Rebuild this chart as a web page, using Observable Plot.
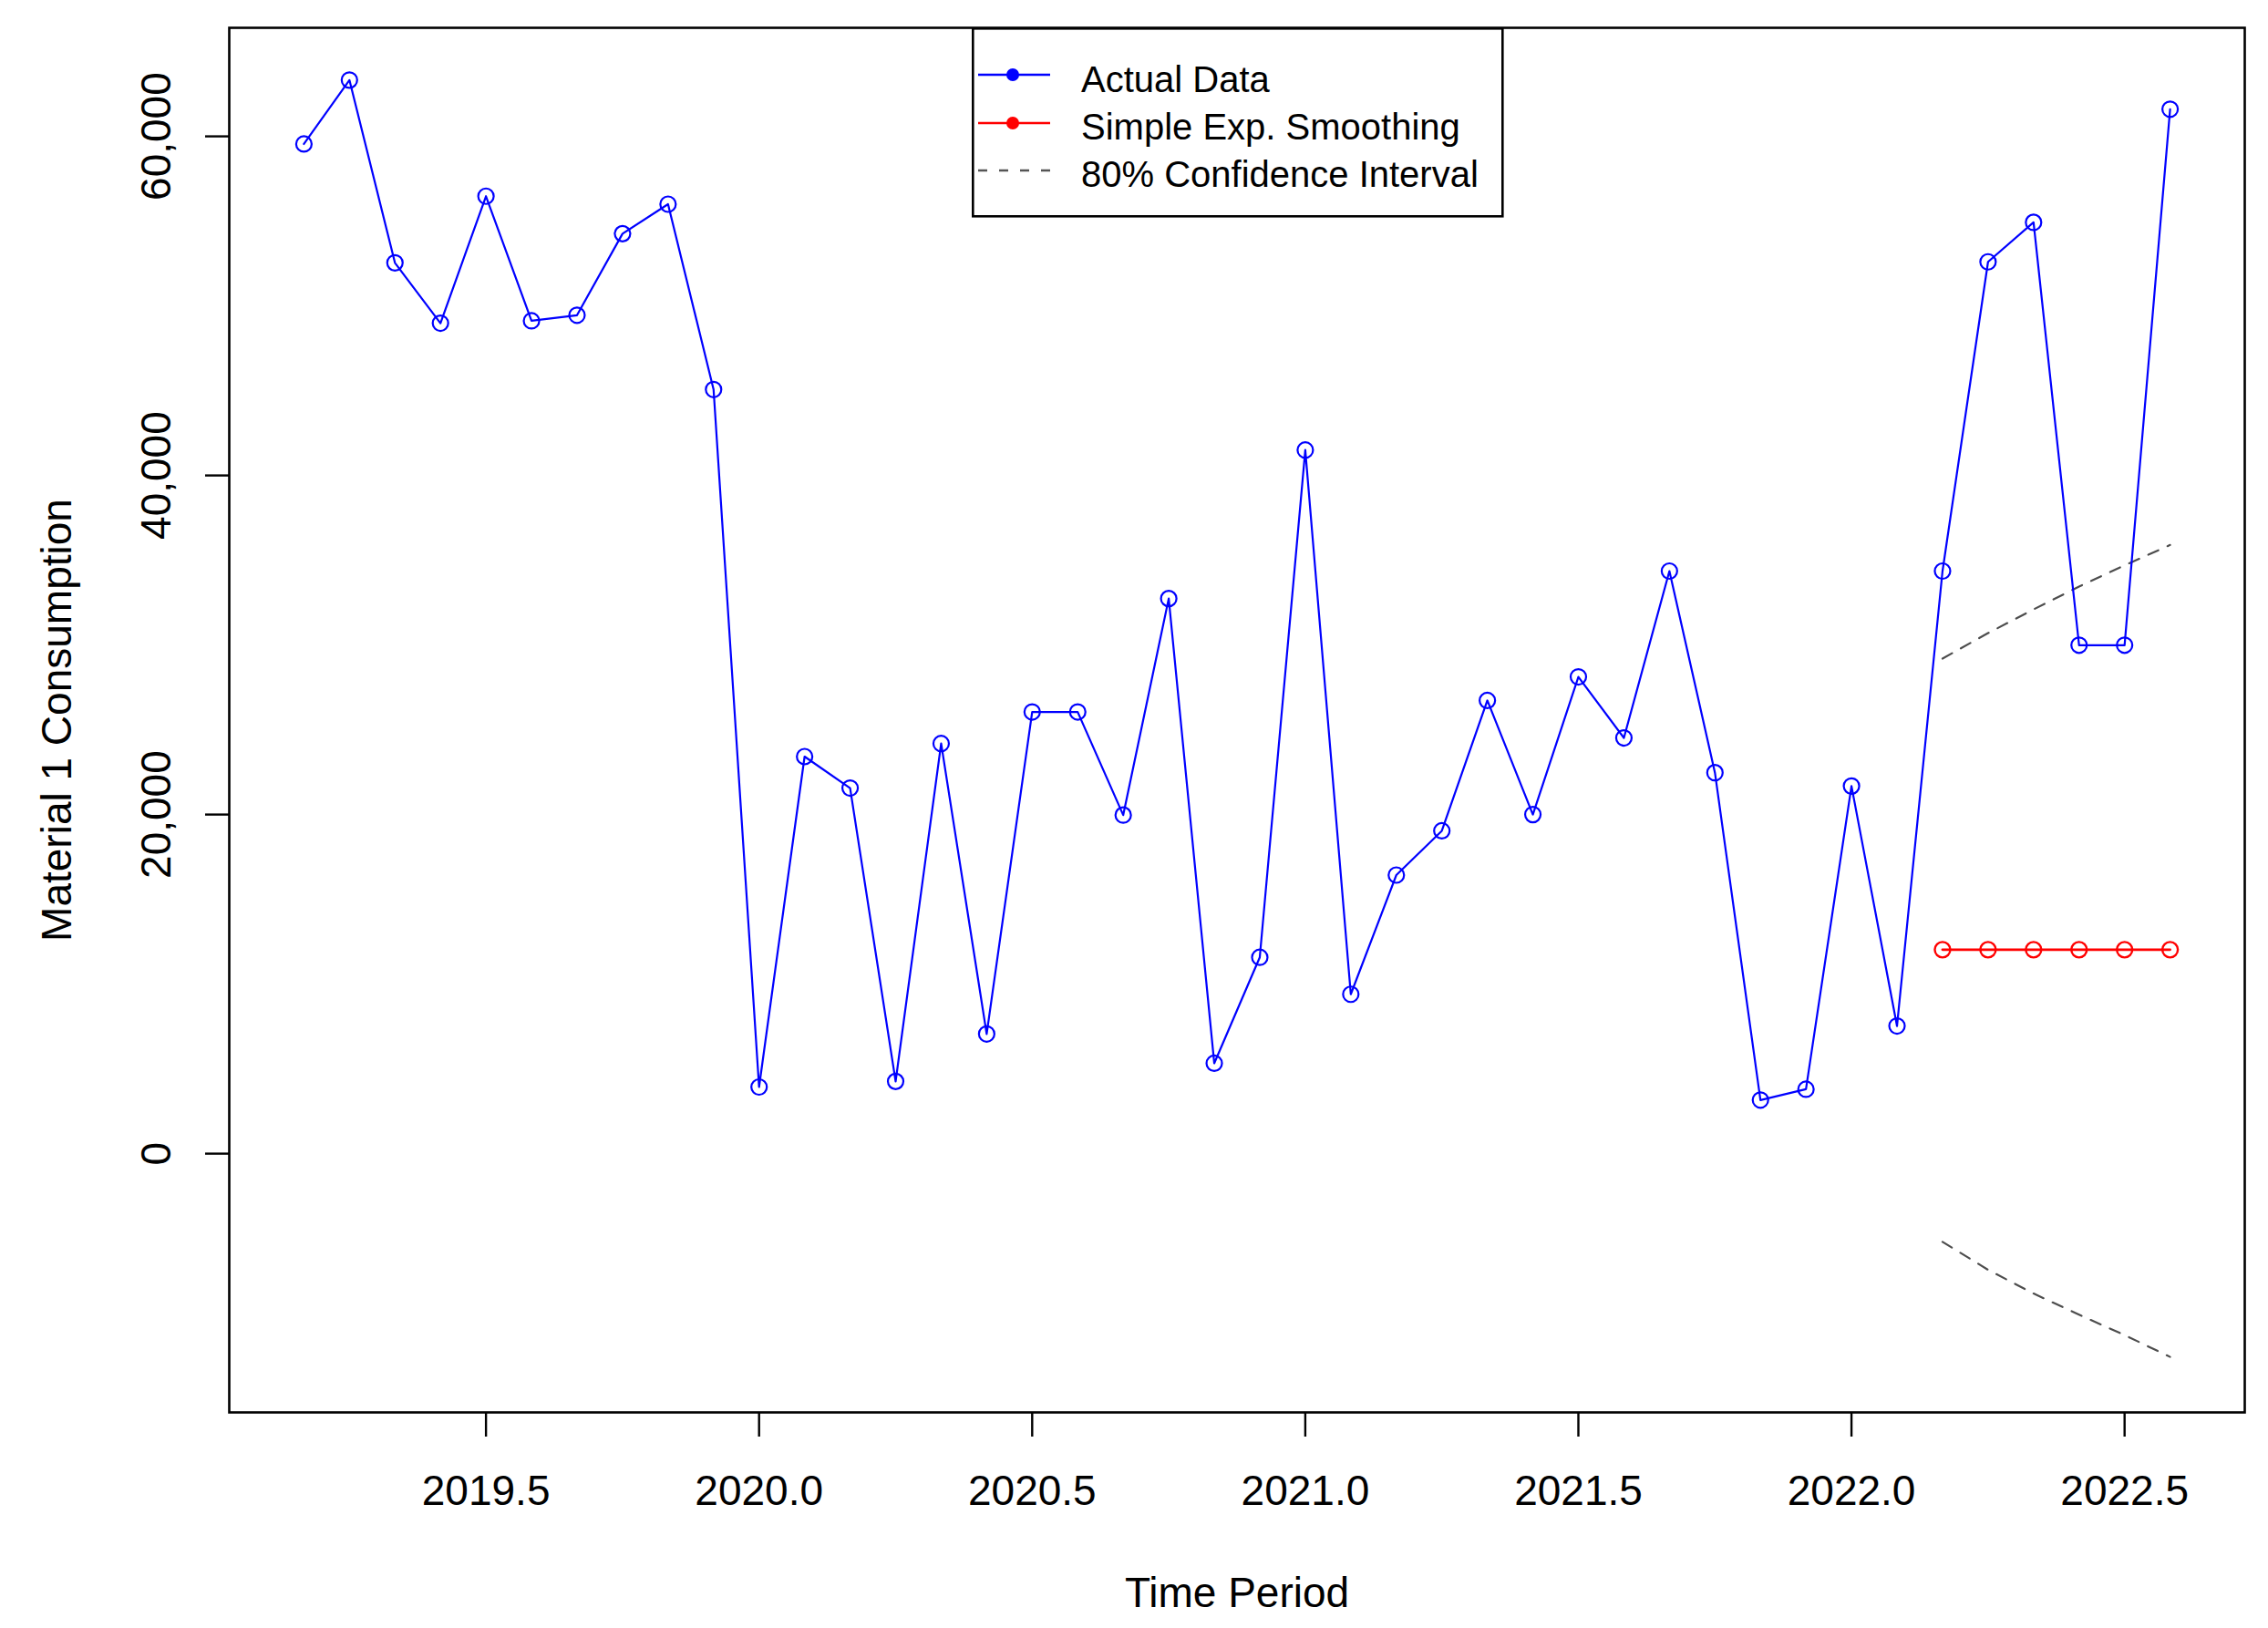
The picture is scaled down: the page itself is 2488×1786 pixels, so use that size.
<!DOCTYPE html>
<html>
<head>
<meta charset="utf-8">
<script src="https://cdn.jsdelivr.net/npm/d3@7"></script>
<script src="https://cdn.jsdelivr.net/npm/@observablehq/plot@0.6"></script>
<style>
html, body { margin: 0; padding: 0; background: #fff; }
#wrap { position: relative; width: 2488px; height: 1786px; overflow: hidden; }
#legend { position: absolute; left: 1066px; top: 30px; font-family: 'Liberation Sans', Arial, sans-serif; }
</style>
</head>
<body>
<div id="wrap"></div>
<script>
// ---- data ----
const periods = [
  "2019-03","2019-04","2019-05","2019-06","2019-07","2019-08","2019-09","2019-10","2019-11","2019-12",
  "2020-01","2020-02","2020-03","2020-04","2020-05","2020-06","2020-07","2020-08","2020-09","2020-10","2020-11","2020-12",
  "2021-01","2021-02","2021-03","2021-04","2021-05","2021-06","2021-07","2021-08","2021-09","2021-10","2021-11","2021-12",
  "2022-01","2022-02","2022-03","2022-04","2022-05","2022-06","2022-07","2022-08"
];
const actual = [
  59550, 63320, 52540, 48980, 56470, 49120, 49450, 54260, 56000, 45070,
  3930, 23420, 21560, 4260, 24190, 7060, 26050, 26050, 19970, 32740, 5330, 11580,
  41500, 9400, 16430, 19040, 26730, 20000, 28120, 24520, 34360, 22470, 3160, 3800,
  21680, 7530, 34360, 52600, 54930, 29990, 29990, 61600
];
const fcPeriods = ["2022-03","2022-04","2022-05","2022-06","2022-07","2022-08"];
const forecast = [12030, 12030, 12030, 12030, 12030, 12030];
const upper80 = [29200, 30700, 32100, 33450, 34700, 35900];
const lower80 = [-5200, -6850, -8250, -9500, -10700, -11990];
const xTicks = [2019.5, 2020.0, 2020.5, 2021.0, 2021.5, 2022.0, 2022.5];
const yTicks = [0, 20000, 40000, 60000];
const legendItems = ["Actual Data", "Simple Exp. Smoothing", "80% Confidence Interval"];

// ---- build tables ----
const toYear = s => { const [y, m] = s.split("-").map(Number); return y + (m - 1) / 12; };
const actualData = periods.map((p, i) => ({t: toYear(p), v: actual[i]}));
const fcData = fcPeriods.map((p, i) => ({t: toYear(p), v: forecast[i]}));
const ciData = [
  ...fcPeriods.map((p, i) => ({t: toYear(p), v: upper80[i], band: "upper"})),
  ...fcPeriods.map((p, i) => ({t: toYear(p), v: lower80[i], band: "lower"}))
];

const font = "'Liberation Sans', Arial, Helvetica, sans-serif";
const chart = Plot.plot({
  width: 2488,
  height: 1786,
  marginLeft: 251,
  marginRight: 26,
  marginTop: 30,
  marginBottom: 237,
  x: {domain: [2019.03, 2022.72], axis: null},
  y: {domain: [-15263, 66403], axis: null},
  style: {fontFamily: font, background: "#fff", color: "#000"},
  marks: [
    Plot.line(ciData, {x: "t", y: "v", z: "band", stroke: "#4d4d4d", strokeWidth: 2.2, strokeDasharray: "12,11"}),
    Plot.line(actualData, {x: "t", y: "v", stroke: "#0000ff", strokeWidth: 2.2}),
    Plot.dot(actualData, {x: "t", y: "v", r: 8.5, stroke: "#0000ff", strokeWidth: 2.2, fill: "none"}),
    Plot.line(fcData, {x: "t", y: "v", stroke: "#ff0000", strokeWidth: 2.8}),
    Plot.dot(fcData, {x: "t", y: "v", r: 8.5, stroke: "#ff0000", strokeWidth: 2.4, fill: "none"}),
    Plot.frame({stroke: "#000", strokeWidth: 2.6}),
    Plot.axisX({ticks: xTicks, tickSize: 27, tickPadding: 42, tickFormat: d3.format(".1f"),
      fontSize: 46, strokeWidth: 2.4, stroke: "#000", fill: "#000", label: null}),
    Plot.axisY({ticks: yTicks, tickSize: 26, tickFormat: () => "", strokeWidth: 2.4, stroke: "#000", label: null}),
    Plot.text(yTicks, {y: d => d, text: d => d3.format(",")(d), frameAnchor: "left", dx: -79,
      rotate: -90, textAnchor: "middle", lineAnchor: "middle", fontSize: 46, fill: "#000"}),
    Plot.text(["Time Period"], {text: d => d, frameAnchor: "bottom", dy: 213, lineAnchor: "bottom",
      textAnchor: "middle", fontSize: 46, fill: "#000"}),
    Plot.text(["Material 1 Consumption"], {text: d => d, frameAnchor: "left", dx: -174, rotate: -90,
      textAnchor: "middle", lineAnchor: "bottom", fontSize: 46, fill: "#000"})
  ]
});
const wrap = document.getElementById("wrap");
wrap.appendChild(chart);

// ---- legend (inside the plot box, top centre) ----
const lg = document.createElement("div");
lg.id = "legend";
lg.innerHTML = `
<svg width="584" height="209" xmlns="http://www.w3.org/2000/svg">
  <rect x="1.3" y="1.3" width="581" height="206" fill="#fff" stroke="#000" stroke-width="2.6"/>
  <line x1="7" x2="86" y1="52" y2="52" stroke="#0000ff" stroke-width="2.7"/>
  <circle cx="45" cy="52" r="7" fill="#0000ff"/>
  <text x="120" y="71" font-size="40" fill="#000">${legendItems[0]}</text>
  <line x1="7" x2="86" y1="105" y2="105" stroke="#ff0000" stroke-width="2.7"/>
  <circle cx="45" cy="105" r="7" fill="#ff0000"/>
  <text x="120" y="123" font-size="40" fill="#000">${legendItems[1]}</text>
  <line x1="7" x2="86" y1="157" y2="157" stroke="#555" stroke-width="2.4" stroke-dasharray="10,13"/>
  <text x="120" y="175" font-size="40" fill="#000">${legendItems[2]}</text>
</svg>`;
wrap.appendChild(lg);
</script>
</body>
</html>
